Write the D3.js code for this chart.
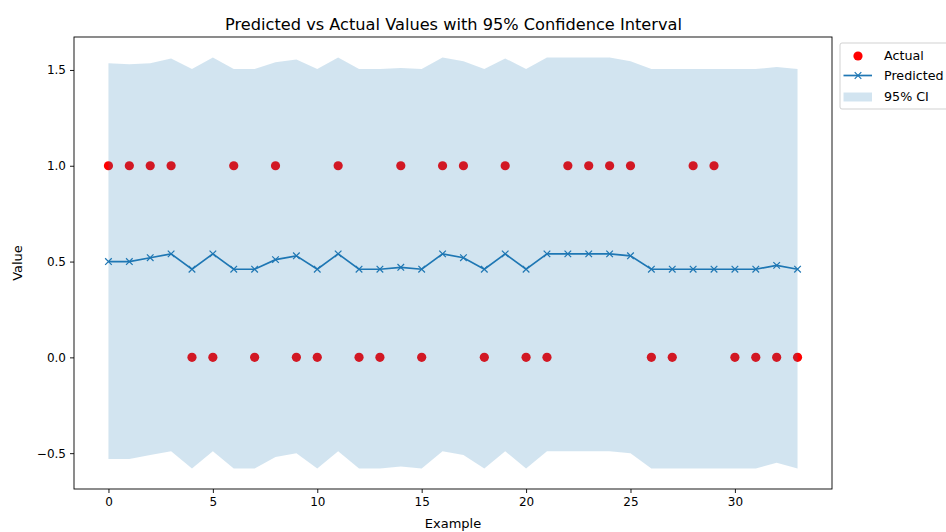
<!DOCTYPE html>
<html>
<head>
<meta charset="utf-8">
<script src="https://cdn.jsdelivr.net/npm/d3@7"></script>
<style>
  html, body { margin: 0; padding: 0; background: #fff; }
  svg { display: block; font-family: "DejaVu Sans", sans-serif; }
</style>
</head>
<body>
<svg id="chart" width="946" height="532"></svg>
<script>
// Example index
const examples = d3.range(0, 34);
// Observed outcome per example
const actual = [1,1,1,1,0,0,1,0,1,0,0,1,0,0,1,0,1,1,0,1,0,0,1,1,1,1,0,0,1,1,0,0,0,0];
// Model prediction per example
const predicted = [0.50,0.50,0.52,0.54,0.46,0.54,0.46,0.46,0.51,0.53,0.46,0.54,0.46,0.46,0.47,0.46,
                   0.54,0.52,0.46,0.54,0.46,0.54,0.54,0.54,0.54,0.53,0.46,0.46,0.46,0.46,0.46,0.46,0.48,0.46];
// 95% confidence bounds
const ciLower = [-0.53,-0.53,-0.51,-0.49,-0.58,-0.49,-0.58,-0.58,-0.52,-0.50,-0.58,-0.49,-0.58,-0.58,-0.57,-0.58,
                 -0.49,-0.51,-0.58,-0.49,-0.58,-0.49,-0.49,-0.49,-0.49,-0.50,-0.58,-0.58,-0.58,-0.58,-0.58,-0.58,-0.55,-0.58];
const ciUpper = [1.535,1.53,1.535,1.56,1.505,1.565,1.505,1.505,1.54,1.555,1.505,1.565,1.505,1.505,1.51,1.505,
                 1.565,1.545,1.505,1.56,1.505,1.565,1.565,1.565,1.565,1.545,1.505,1.505,1.505,1.505,1.505,1.505,1.515,1.505];
const xTicks = [0, 5, 10, 15, 20, 25, 30];
const yTicks = [-0.5, 0.0, 0.5, 1.0, 1.5];

const svg = d3.select("#chart");
const plot = { left: 74, right: 832, top: 37, bottom: 489 };

const x = d3.scaleLinear().domain([-1.65, 34.65]).range([plot.left, plot.right]);
const y = d3.scaleLinear().domain([-0.687, 1.672]).range([plot.bottom, plot.top]);

const blue = "#1f77b4";
const tickFont = 12;

// Actual outcomes (drawn first; the CI band sits above them)
svg.append("g").selectAll("circle")
  .data(examples)
  .join("circle")
  .attr("cx", i => x(i))
  .attr("cy", i => y(actual[i]))
  .attr("r", 4.6)
  .attr("fill", "#ff0000");

// Prediction line with x markers
svg.append("path")
  .datum(examples)
  .attr("fill", "none")
  .attr("stroke", blue)
  .attr("stroke-width", 1.7)
  .attr("d", d3.line().x(i => x(i)).y(i => y(predicted[i])));

const xm = 3.3;
svg.append("g").selectAll("path")
  .data(examples)
  .join("path")
  .attr("d", i => {
    const cx = x(i), cy = y(predicted[i]);
    return `M${cx - xm},${cy - xm}L${cx + xm},${cy + xm}M${cx - xm},${cy + xm}L${cx + xm},${cy - xm}`;
  })
  .attr("stroke", blue)
  .attr("stroke-width", 1.2)
  .attr("fill", "none");

// 95% confidence band
svg.append("path")
  .datum(examples)
  .attr("fill", blue)
  .attr("fill-opacity", 0.2)
  .attr("d", d3.area().x(i => x(i)).y0(i => y(ciLower[i])).y1(i => y(ciUpper[i])));

// Axes
const xAxis = d3.axisBottom(x).tickValues(xTicks).tickFormat(d3.format("d")).tickSize(4).tickPadding(4);
const yAxis = d3.axisLeft(y).tickValues(yTicks).tickFormat(d3.format(".1f")).tickSize(4).tickPadding(4);

const gx = svg.append("g").attr("transform", `translate(0,${plot.bottom})`).call(xAxis);
const gy = svg.append("g").attr("transform", `translate(${plot.left},0)`).call(yAxis);
[gx, gy].forEach(g => {
  g.select(".domain").remove();
  g.selectAll("text").attr("font-size", tickFont).attr("fill", "#000").attr("font-family", "DejaVu Sans");
  g.selectAll("line").attr("stroke", "#000").attr("stroke-width", 0.9);
});
gy.selectAll("text").text(d => d < 0 ? "\u2212" + Math.abs(d).toFixed(1) : d.toFixed(1));

// Frame
svg.append("rect")
  .attr("x", plot.left).attr("y", plot.top)
  .attr("width", plot.right - plot.left).attr("height", plot.bottom - plot.top)
  .attr("fill", "none").attr("stroke", "#000").attr("stroke-width", 0.9);

// Titles
svg.append("text").attr("x", (plot.left + plot.right) / 2 + 0.5).attr("y", 29.5)
  .attr("text-anchor", "middle").attr("font-size", 16.2).attr("fill", "#000")
  .text("Predicted vs Actual Values with 95% Confidence Interval");
svg.append("text").attr("x", (plot.left + plot.right) / 2).attr("y", 527.5)
  .attr("text-anchor", "middle").attr("font-size", 13).attr("fill", "#000")
  .text("Example");
svg.append("text").attr("transform", `translate(22,${(plot.top + plot.bottom) / 2}) rotate(-90)`)
  .attr("text-anchor", "middle").attr("font-size", 13).attr("fill", "#000")
  .text("Value");

// Legend
const lg = svg.append("g").attr("transform", "translate(840,45)");
lg.append("rect").attr("x", 0).attr("y", -2).attr("width", 125).attr("height", 66).attr("rx", 2)
  .attr("fill", "#fff").attr("stroke", "#ccc").attr("stroke-width", 0.9);
const rows = [11, 30.5, 52];
lg.append("circle").attr("cx", 18).attr("cy", rows[0]).attr("r", 4.6).attr("fill", "#ff0000");
lg.append("line").attr("x1", 3.5).attr("x2", 32).attr("y1", rows[1]).attr("y2", rows[1])
  .attr("stroke", blue).attr("stroke-width", 1.7);
lg.append("path").attr("d", `M${18 - xm},${rows[1] - xm}L${18 + xm},${rows[1] + xm}M${18 - xm},${rows[1] + xm}L${18 + xm},${rows[1] - xm}`)
  .attr("stroke", blue).attr("stroke-width", 1.2);
lg.append("rect").attr("x", 3.5).attr("y", rows[2] - 4.5).attr("width", 28.5).attr("height", 9)
  .attr("fill", blue).attr("fill-opacity", 0.2);
["Actual", "Predicted", "95% CI"].forEach((t, k) => {
  lg.append("text").attr("x", 44).attr("y", rows[k]).attr("dy", "0.35em")
    .attr("font-size", 12.7).attr("fill", "#000").text(t);
});
</script>
</body>
</html>
